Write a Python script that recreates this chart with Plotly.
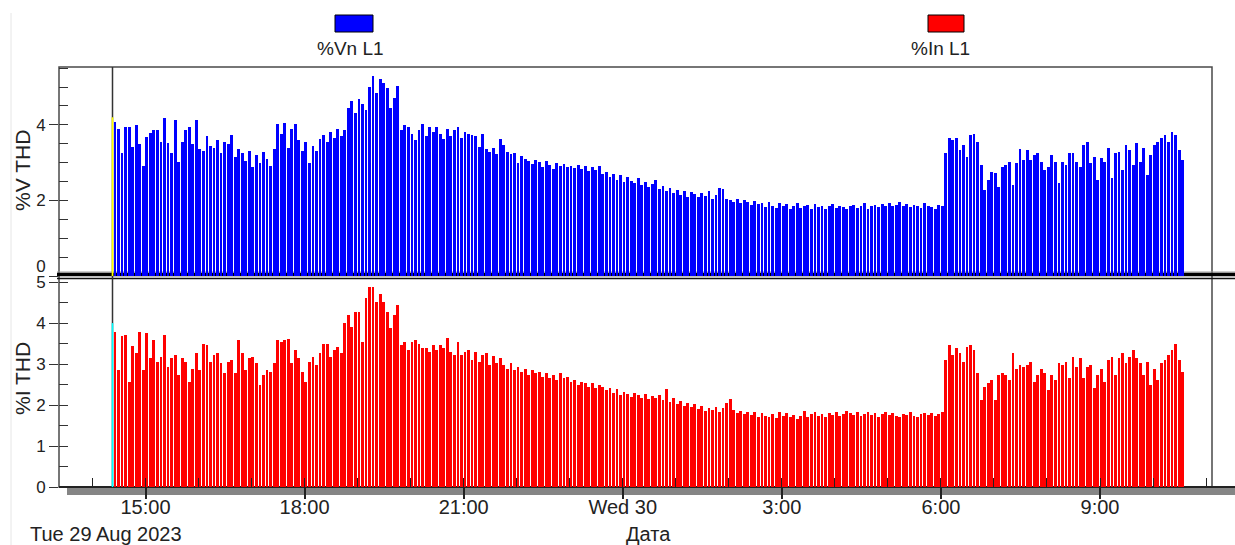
import plotly.graph_objects as go
import pandas as pd

# ---------------- data ----------------
start_time = "2023-08-29 14:25:30"
step = "4min"
cursor_time = "2023-08-29 14:22:40"
cursor_values = [4.2, 4.0]          # yellow (V) and cyan (I) cursor marks

v_thd = [
    4.08, 3.90, 3.25, 3.95, 3.95, 3.42, 4.00, 3.50, 2.90, 3.68,
    3.78, 3.85, 3.85, 3.55, 4.17, 3.52, 3.25, 4.12, 3.02, 3.55,
    3.85, 3.95, 3.50, 4.12, 3.35, 3.30, 3.70, 3.45, 3.40, 3.60,
    3.25, 3.55, 3.48, 3.72, 3.15, 3.35, 3.25, 3.05, 3.30, 2.88,
    3.20, 3.00, 3.28, 3.10, 2.92, 3.35, 4.02, 3.75, 4.05, 3.40,
    3.90, 4.02, 3.60, 3.30, 3.55, 3.00, 3.45, 3.30, 3.62, 3.72,
    3.55, 3.80, 3.65, 3.90, 3.70, 3.85, 4.45, 4.62, 4.30, 4.68,
    4.55, 4.40, 5.00, 5.28, 4.85, 5.20, 5.12, 4.98, 4.45, 4.70,
    5.02, 3.85, 4.00, 3.95, 3.75, 3.60, 3.85, 4.02, 3.70, 3.95,
    3.80, 3.95, 3.75, 3.62, 3.90, 3.70, 3.85, 3.95, 3.65, 3.80,
    3.75, 3.72, 3.70, 3.42, 3.75, 3.35, 3.28, 3.38, 3.24, 3.62,
    3.47, 3.28, 3.22, 3.25, 3.00, 3.18, 3.10, 3.05, 2.96, 3.08,
    3.02, 2.88, 3.05, 2.95, 2.82, 2.98, 2.90, 2.96, 2.88, 2.92,
    2.85, 2.95, 2.82, 2.90, 2.78, 2.88, 2.80, 2.92, 2.70, 2.74,
    2.62, 2.70, 2.55, 2.66, 2.50, 2.62, 2.52, 2.45, 2.58, 2.40,
    2.50, 2.36, 2.44, 2.54, 2.30, 2.38, 2.25, 2.32, 2.20, 2.28,
    2.15, 2.26, 2.10, 2.22, 2.18, 2.08, 2.20, 2.12, 2.25, 2.05,
    2.15, 2.34, 2.30, 2.05, 2.00, 1.96, 2.04, 1.92, 2.00, 1.95,
    1.88, 1.98, 1.90, 1.94, 1.82, 1.96, 1.86, 1.80, 1.92, 1.84,
    1.90, 1.78, 1.86, 1.92, 1.80, 1.84, 1.88, 1.76, 1.90, 1.82,
    1.86, 1.78, 1.84, 1.90, 1.80, 1.86, 1.82, 1.76, 1.84, 1.88,
    1.80, 1.86, 1.92, 1.78, 1.84, 1.88, 1.82, 1.90, 1.86, 1.94,
    1.84, 1.88, 1.96, 1.86, 1.90, 1.82, 1.88, 1.84, 1.80, 1.92,
    1.86, 1.82, 1.78, 1.88, 1.84,
    3.25, 3.64, 3.60, 3.64, 3.33, 3.47, 3.16, 3.73, 3.77, 3.55,
    2.94, 2.28, 2.54, 2.76, 2.72, 2.36, 2.89, 2.94, 3.02, 2.42,
    2.98, 3.36, 3.07, 3.33, 3.07, 3.20, 3.25, 3.02, 2.80, 2.89,
    3.20, 3.02, 2.45, 3.02, 2.94, 3.25, 3.25, 3.02, 2.89, 3.46,
    3.55, 2.98, 3.16, 2.54, 3.12, 3.02, 3.38, 2.58, 3.25, 3.29,
    2.80, 3.47, 3.33, 2.94, 3.51, 3.02, 3.38, 2.67,
    3.20, 3.47, 3.55, 3.64, 3.73, 3.55, 3.82, 3.73, 3.33, 3.07,
]

i_thd = [
    3.79, 2.85, 3.69, 3.71, 2.57, 3.45, 3.26, 3.79, 2.85, 3.75,
    3.14, 3.58, 3.06, 3.18, 3.71, 2.93, 3.14, 3.22, 2.73, 3.15,
    3.06, 2.57, 2.89, 3.26, 2.85, 3.50, 3.46, 3.06, 3.22, 3.26,
    3.02, 2.77, 3.06, 3.10, 2.78, 3.58, 3.26, 2.85, 3.14, 3.18,
    3.02, 2.49, 2.73, 2.85, 2.81, 3.02, 3.58, 3.54, 3.58, 3.62,
    3.02, 3.34, 3.14, 2.81, 2.57, 3.06, 3.18, 2.97, 3.26, 3.50,
    3.50, 3.18, 3.34, 3.42, 3.26, 3.99, 4.20, 3.91, 4.28, 4.28,
    3.54, 4.60, 4.89, 4.89, 4.52, 4.72, 4.52, 4.28, 3.87, 4.20,
    4.44, 3.46, 3.54, 3.34, 3.54, 3.58, 3.50, 3.38, 3.38, 3.30,
    3.46, 3.34, 3.46, 3.38, 3.63, 3.30, 3.22, 3.54, 3.22, 3.30,
    3.34, 3.10, 3.30, 3.06, 3.22, 3.26, 2.97, 3.20, 3.02, 3.14,
    2.97, 2.89, 3.02, 2.85, 2.93, 2.81, 2.89, 2.73, 2.85, 2.77,
    2.81, 2.69, 2.77, 2.65, 2.73, 2.61, 2.77, 2.65, 2.69, 2.57,
    2.61, 2.49, 2.57, 2.53, 2.45, 2.53, 2.41, 2.49, 2.44, 2.36,
    2.41, 2.30, 2.38, 2.25, 2.33, 2.28, 2.20, 2.30, 2.24, 2.18,
    2.26, 2.14, 2.22, 2.16, 2.24, 2.12, 2.38, 2.08, 2.16, 2.02,
    2.10, 1.98, 2.06, 1.95, 2.02, 1.90, 1.98, 1.86, 1.94, 1.88,
    1.96, 1.84, 1.92, 2.05, 2.15, 1.88, 1.80, 1.86, 1.78, 1.84,
    1.76, 1.82, 1.72, 1.80, 1.74, 1.70, 1.78, 1.68, 1.82, 1.74,
    1.80, 1.72, 1.76, 1.66, 1.74, 1.86, 1.70, 1.78, 1.82, 1.74,
    1.78, 1.72, 1.80, 1.76, 1.84, 1.74, 1.78, 1.86, 1.80, 1.76,
    1.82, 1.74, 1.78, 1.84, 1.76, 1.80, 1.72, 1.78, 1.82, 1.76,
    1.80, 1.74, 1.70, 1.78, 1.76, 1.82, 1.74, 1.72, 1.78, 1.80,
    1.76, 1.80, 1.74, 1.78, 1.82,
    3.10, 3.46, 3.22, 3.38, 3.26, 3.06, 3.42, 3.46, 3.34, 2.77,
    2.12, 2.44, 2.53, 2.61, 2.12, 2.73, 2.77, 2.73, 2.61, 3.26,
    2.89, 2.97, 2.93, 2.97, 3.06, 2.57, 2.73, 2.89, 2.77, 2.36,
    2.73, 2.61, 3.02, 2.97, 3.06, 2.65, 3.18, 2.93, 3.14, 2.65,
    2.93, 2.97, 2.41, 2.73, 2.89, 2.57, 3.10, 3.18, 2.73, 3.14,
    3.26, 3.02, 3.18, 3.34, 3.14, 3.02, 2.73, 3.06,
    2.49, 2.89, 2.60, 3.02, 3.10, 3.22, 3.34, 3.50, 3.10, 2.81,
]

tick_times = ["2023-08-29 15:00", "2023-08-29 18:00", "2023-08-29 21:00",
              "2023-08-30 00:00", "2023-08-30 03:00", "2023-08-30 06:00",
              "2023-08-30 09:00"]
tick_labels = ["15:00", "18:00", "21:00", "Wed 30", "3:00", "6:00", "9:00"]
v_ticks = [0, 2, 4]
i_ticks = [0, 1, 2, 3, 4, 5]
series_names = ["%Vn L1", "%In L1"]
axis_titles = ["%V THD", "%I THD"]
date_label = "Tue 29 Aug 2023"
x_title = "Дата"

# ---------------- layout helpers ----------------
W, H = 1235, 545
def px(x):
    return x / W
def py(y):
    return 1 - y / H

FONT = "Liberation Sans, Arial, sans-serif"
TXT = "#222222"
times = pd.date_range(start_time, periods=len(v_thd), freq=step)
bar_w = pd.Timedelta(step).total_seconds() * 1000 * 0.80
x_range = ["2023-08-29 13:22:08", "2023-08-30 11:06:43"]
Y1 = [0, 5.53]
Y2 = [0, 5.10]

fig = go.Figure()
fig.add_trace(go.Bar(x=times, y=v_thd, width=bar_w, marker=dict(color="#0000FF", line=dict(width=0)),
                     xaxis="x", yaxis="y", name=series_names[0], hoverinfo="x+y"))
fig.add_trace(go.Bar(x=times, y=i_thd, width=bar_w, marker=dict(color="#FF0000", line=dict(width=0)),
                     xaxis="x2", yaxis="y2", name=series_names[1], hoverinfo="x+y"))
# cursor marks
fig.add_trace(go.Scatter(x=[cursor_time, cursor_time], y=[0, cursor_values[0]], mode="lines",
                         line=dict(color="#FFFF00", width=1.6), xaxis="x", yaxis="y", hoverinfo="skip"))
fig.add_trace(go.Scatter(x=[cursor_time, cursor_time], y=[0, cursor_values[1]], mode="lines",
                         line=dict(color="#00FFFF", width=1.6), xaxis="x2", yaxis="y2", hoverinfo="skip"))
# empty traces that realise the overlay tick axes
fig.add_trace(go.Scatter(x=[], y=[], xaxis="x", yaxis="y3", hoverinfo="skip"))
fig.add_trace(go.Scatter(x=[], y=[], xaxis="x2", yaxis="y4", hoverinfo="skip"))
fig.add_trace(go.Scatter(x=[], y=[], xaxis="x3", yaxis="y2", hoverinfo="skip"))
fig.add_trace(go.Scatter(x=[], y=[], xaxis="x", yaxis="y5", hoverinfo="skip"))
fig.add_trace(go.Scatter(x=[], y=[], xaxis="x4", yaxis="y2", hoverinfo="skip"))

xdom = [px(59), px(1212)]
tickfont_y = dict(family=FONT, size=17, color=TXT)
common_y = dict(showgrid=False, zeroline=False, showline=False, ticks="outside", ticklen=9,
                tickwidth=1.3, tickcolor="#333", tickfont=tickfont_y, fixedrange=True,
                automargin=False)
minor_y = dict(showgrid=False, zeroline=False, showline=False, ticks="inside", ticklen=9,
               tickwidth=1.3, tickcolor="#333", showticklabels=False, tickmode="linear",
               tick0=0, dtick=0.5, fixedrange=True, automargin=False)

fig.update_layout(
    width=W, height=H, margin=dict(l=0, r=0, t=0, b=0, pad=0, autoexpand=False),
    paper_bgcolor="white", plot_bgcolor="rgba(0,0,0,0)", showlegend=False,
    bargap=0, barmode="overlay",
    font=dict(family=FONT, color=TXT),
    xaxis=dict(domain=xdom, anchor="y", range=x_range, type="date", showticklabels=False,
               ticks="", showgrid=False, zeroline=False, showline=False, fixedrange=True,
               automargin=False),
    # labelled time axis (labels only)
    xaxis2=dict(domain=xdom, anchor="y2", range=x_range, type="date", tickmode="array",
                tickvals=tick_times, ticktext=tick_labels, ticks="", ticklabelstandoff=6,
                showgrid=False, zeroline=False, showline=False,
                tickfont=dict(family=FONT, size=20, color=TXT), fixedrange=True,
                automargin=False),
    # hourly inside ticks
    xaxis3=dict(overlaying="x2", anchor="y2", range=x_range, type="date", tickmode="linear",
                tick0="2023-08-29 00:00", dtick=3600000, ticks="inside", ticklen=9,
                tickwidth=1.3, tickcolor="#222", showticklabels=False, showgrid=False,
                zeroline=False, showline=False, fixedrange=True, automargin=False),
    # long outside ticks at labelled times
    xaxis4=dict(overlaying="x2", anchor="y2", range=x_range, type="date", tickmode="array",
                tickvals=tick_times, ticks="outside", ticklen=11, tickwidth=1.5,
                tickcolor="#222", showticklabels=False, showgrid=False, zeroline=False,
                showline=False, fixedrange=True, automargin=False),
    yaxis=dict(domain=[py(276), py(67)], anchor="x", range=Y1, tickmode="array",
               tickvals=v_ticks, ticktext=["" if t == 0 else str(t) for t in v_ticks], **common_y),
    yaxis2=dict(domain=[py(487), py(278)], anchor="x2", range=Y2, tickmode="array",
                tickvals=i_ticks, **common_y),
    yaxis3=dict(overlaying="y", anchor="x", range=Y1, **minor_y),
    yaxis4=dict(overlaying="y2", anchor="x2", range=Y2, **minor_y),
    # the "0" label of the upper panel sits a little above its tick
    yaxis5=dict(overlaying="y", anchor="x", range=Y1, tickmode="array", tickvals=[v_ticks[0]],
                ticktext=[str(v_ticks[0])], ticks="outside", ticklen=9, tickcolor="rgba(0,0,0,0)",
                ticklabelshift=-10, showgrid=False, zeroline=False, showline=False,
                tickfont=tickfont_y, fixedrange=True, automargin=False),
)

shapes = [
    # faint page border line
    dict(type="line", xref="paper", yref="paper", x0=px(11), x1=px(11), y0=py(13), y1=py(545),
         line=dict(color="#e6e6e6", width=1), layer="below"),
    # frame
    dict(type="rect", xref="paper", yref="paper", x0=px(59), x1=px(1212), y0=py(487), y1=py(67),
         line=dict(color="#4a4a4a", width=1.5), layer="below"),
    # separator between panels
    dict(type="line", xref="paper", yref="paper", x0=px(57), x1=px(1235), y0=py(272), y1=py(272),
         line=dict(color="#9a9a9a", width=1), layer="below"),
    dict(type="line", xref="paper", yref="paper", x0=px(57), x1=px(1235), y0=py(274.5), y1=py(274.5),
         line=dict(color="#000000", width=3.5), layer="below"),
    dict(type="line", xref="paper", yref="paper", x0=px(57), x1=px(1235), y0=py(278.5), y1=py(278.5),
         line=dict(color="#111111", width=1.6), layer="below"),
    # bottom axis line and grey band
    dict(type="rect", xref="paper", yref="paper", x0=px(67), x1=px(1235), y0=py(495), y1=py(488),
         fillcolor="#858585", line=dict(width=0), layer="below"),
    dict(type="line", xref="paper", yref="paper", x0=px(59), x1=px(1235), y0=py(487), y1=py(487),
         line=dict(color="#222222", width=2), layer="below"),
    # cursor line
    dict(type="line", xref="x2", yref="paper", x0=cursor_time, x1=cursor_time, y0=py(487), y1=py(67),
         line=dict(color="#333333", width=1.5), layer="below"),
    # legend swatches
    dict(type="rect", xref="paper", yref="paper", x0=px(335), x1=px(373), y0=py(32), y1=py(15),
         fillcolor="#0000FF", line=dict(color="#000", width=1)),
    dict(type="rect", xref="paper", yref="paper", x0=px(928), x1=px(964), y0=py(32), y1=py(15),
         fillcolor="#FF0000", line=dict(color="#000", width=1)),
]
fig.update_layout(shapes=shapes)

def ann(text, x, y, size, angle=0):
    return dict(text=text, xref="paper", yref="paper", x=px(x), y=py(y), xanchor="center",
                yanchor="middle", showarrow=False, textangle=angle,
                font=dict(family=FONT, size=size, color=TXT))

fig.update_layout(annotations=[
    ann(series_names[0], 350, 49, 19),
    ann(series_names[1], 940, 49, 19),
    ann(axis_titles[0], 22, 171, 21, -90),
    ann(axis_titles[1], 22, 379, 21, -90),
    ann(date_label, 106, 534, 20),
    ann(x_title, 648, 534, 20),
])

fig.write_html("out.html", config={"displayModeBar": False, "responsive": False},
               post_script="document.body.style.margin='0';document.body.style.overflow='hidden';")
